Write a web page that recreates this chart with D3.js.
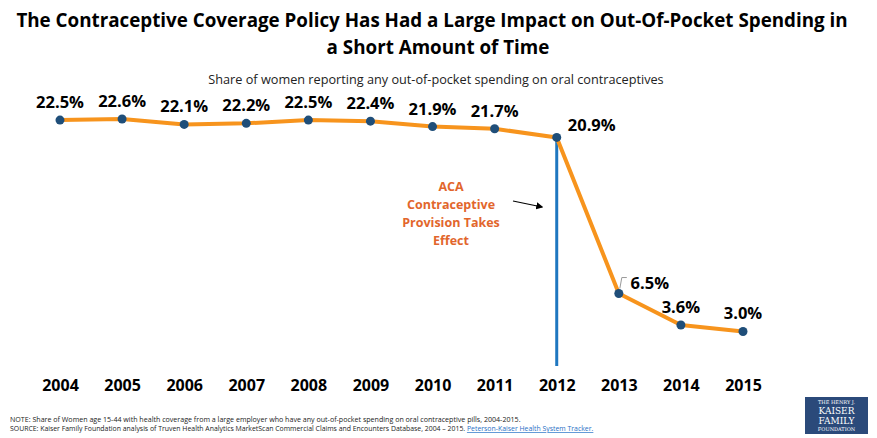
<!DOCTYPE html>
<html>
<head>
<meta charset="utf-8">
<script src="https://d3js.org/d3.v7.min.js"></script>
<style>
  body { margin: 0; background: #fff; }
  text { font-family: "Open Sans", "Liberation Sans", sans-serif; }
</style>
</head>
<body>
<div id="chart"></div>
<script>
var years = ["2004", "2005", "2006", "2007", "2008", "2009", "2010", "2011", "2012", "2013", "2014", "2015"];
var shares = [22.5, 22.6, 22.1, 22.2, 22.5, 22.4, 21.9, 21.7, 20.9, 6.5, 3.6, 3.0];
var labels = ["22.5%", "22.6%", "22.1%", "22.2%", "22.5%", "22.4%", "21.9%", "21.7%", "20.9%", "6.5%", "3.6%", "3.0%"];
var policyYear = "2012";

var svg = d3.select("#chart")
  .append("svg")
  .attr("width", 877).attr("height", 438);

// title
svg.append("text")
  .attr("x", 432).attr("y", 27)
  .attr("text-anchor", "middle")
  .attr("font-size", 18.8).attr("font-weight", "bold")
  .attr("fill", "#000")
  .text("The Contraceptive Coverage Policy Has Had a Large Impact on Out-Of-Pocket Spending in");
svg.append("text")
  .attr("x", 438).attr("y", 54)
  .attr("text-anchor", "middle")
  .attr("font-size", 18.8).attr("font-weight", "bold")
  .attr("fill", "#000")
  .text("a Short Amount of Time");

svg.append("text")
  .attr("x", 436).attr("y", 84)
  .attr("text-anchor", "middle")
  .attr("font-size", 12.7)
  .attr("fill", "#222")
  .text("Share of women reporting any out-of-pocket spending on oral contraceptives");

var x = d3.scalePoint()
  .domain(years)
  .range([60, 743]);

var y = d3.scaleLinear()
  .domain([0, 22.6])
  .range([364, 120 - 1]);

// year axis, labels only
var xAxis = svg.append("g")
  .attr("transform", "translate(0,372)")
  .call(d3.axisBottom(x).tickSize(0).tickPadding(8));
xAxis.select(".domain").remove();
xAxis.selectAll("text")
  .attr("font-size", 16).attr("font-weight", "bold")
  .attr("fill", "#000")
  .style("font-family", "'Open Sans', sans-serif");

// policy line
svg.append("line")
  .attr("x1", x(policyYear)).attr("x2", x(policyYear))
  .attr("y1", y(shares[years.indexOf(policyYear)])).attr("y2", y(0) + 2)
  .attr("stroke", "#1F77C0").attr("stroke-width", 3);

var line = d3.line()
  .x(function(d, i) { return x(years[i]); })
  .y(function(d) { return y(d); });

svg.append("path")
  .datum(shares)
  .attr("d", line)
  .attr("fill", "none")
  .attr("stroke", "#F7941D")
  .attr("stroke-width", 4)
  .attr("stroke-linejoin", "round");

svg.selectAll("circle.pt")
  .data(shares)
  .enter().append("circle")
  .attr("class", "pt")
  .attr("cx", function(d, i) { return x(years[i]); })
  .attr("cy", function(d) { return y(d); })
  .attr("r", 4.5)
  .attr("fill", "#1F4E79");

// data labels
svg.selectAll("text.lbl")
  .data(shares)
  .enter().append("text")
  .attr("class", "lbl")
  .attr("x", function(d, i) {
    if (i == 8) return x(years[i]) + 35;
    if (i == 9) return x(years[i]) + 31;
    return x(years[i]);
  })
  .attr("y", function(d, i) {
    if (i == 8) return y(d) - 6;
    if (i == 9) return y(d) - 5;
    return y(d) - 12;
  })
  .attr("text-anchor", "middle")
  .attr("font-size", 16.5).attr("font-weight", "bold")
  .attr("fill", "#000")
  .text(function(d, i) { return labels[i]; });

// leader for 6.5%
var x13 = x("2013"), y13 = y(shares[9]);
svg.append("path")
  .attr("d", "M" + (x13 + 1) + "," + (y13 - 5) + "L" + (x13 + 3) + "," + (y13 - 16) + "L" + (x13 + 8) + "," + (y13 - 16))
  .attr("fill", "none")
  .attr("stroke", "#999").attr("stroke-width", 1);

// annotation
var note = ["ACA", "Contraceptive", "Provision Takes", "Effect"];
svg.selectAll("text.ann")
  .data(note)
  .enter().append("text")
  .attr("class", "ann")
  .attr("x", 451)
  .attr("y", function(d, i) { return 191 + i * 18; })
  .attr("text-anchor", "middle")
  .attr("font-size", 12.5).attr("font-weight", "bold")
  .attr("fill", "#E2662C")
  .text(function(d) { return d; });

svg.append("defs").append("marker")
  .attr("id", "arr")
  .attr("viewBox", "0 0 10 10")
  .attr("refX", 8).attr("refY", 5)
  .attr("markerWidth", 6).attr("markerHeight", 6)
  .attr("orient", "auto")
  .append("path")
  .attr("d", "M0,0L10,5L0,10z")
  .attr("fill", "#000");

svg.append("line")
  .attr("x1", 513).attr("y1", 201)
  .attr("x2", 542).attr("y2", 207)
  .attr("stroke", "#000").attr("stroke-width", 1.2)
  .attr("marker-end", "url(#arr)");

// footer
svg.append("text")
  .attr("x", 10).attr("y", 422)
  .attr("font-size", 7.1).attr("fill", "#222")
  .text("NOTE: Share of Women age 15-44 with health coverage from a large employer who have any out-of-pocket  spending  on oral contraceptive pills, 2004-2015.");
var src = svg.append("text")
  .attr("x", 10).attr("y", 431)
  .attr("font-size", 6.9).attr("fill", "#222");
src.append("tspan")
  .text("SOURCE: Kaiser Family Foundation analysis of Truven Health Analytics MarketScan Commercial Claims and Encounters Database, 2004 \u2013 2015. ");
src.append("tspan")
  .attr("fill", "#1F6FC5").attr("text-decoration", "underline")
  .text("Peterson-Kaiser Health System Tracker.");

// logo
var logo = svg.append("g").attr("transform", "translate(805,397)");
logo.append("rect")
  .attr("width", 63).attr("height", 37)
  .attr("fill", "#2B4A7A");
var logoText = [["THE HENRY J.", 5, 7], ["KAISER", 9, 17], ["FAMILY", 9, 27], ["FOUNDATION", 5, 34]];
logo.selectAll("text")
  .data(logoText)
  .enter().append("text")
  .attr("x", 31.5)
  .attr("y", function(d) { return d[2]; })
  .attr("text-anchor", "middle")
  .attr("font-size", function(d) { return d[1]; })
  .attr("fill", "#fff")
  .style("font-family", "'DejaVu Serif', serif")
  .text(function(d) { return d[0]; });
</script>
</body>
</html>
